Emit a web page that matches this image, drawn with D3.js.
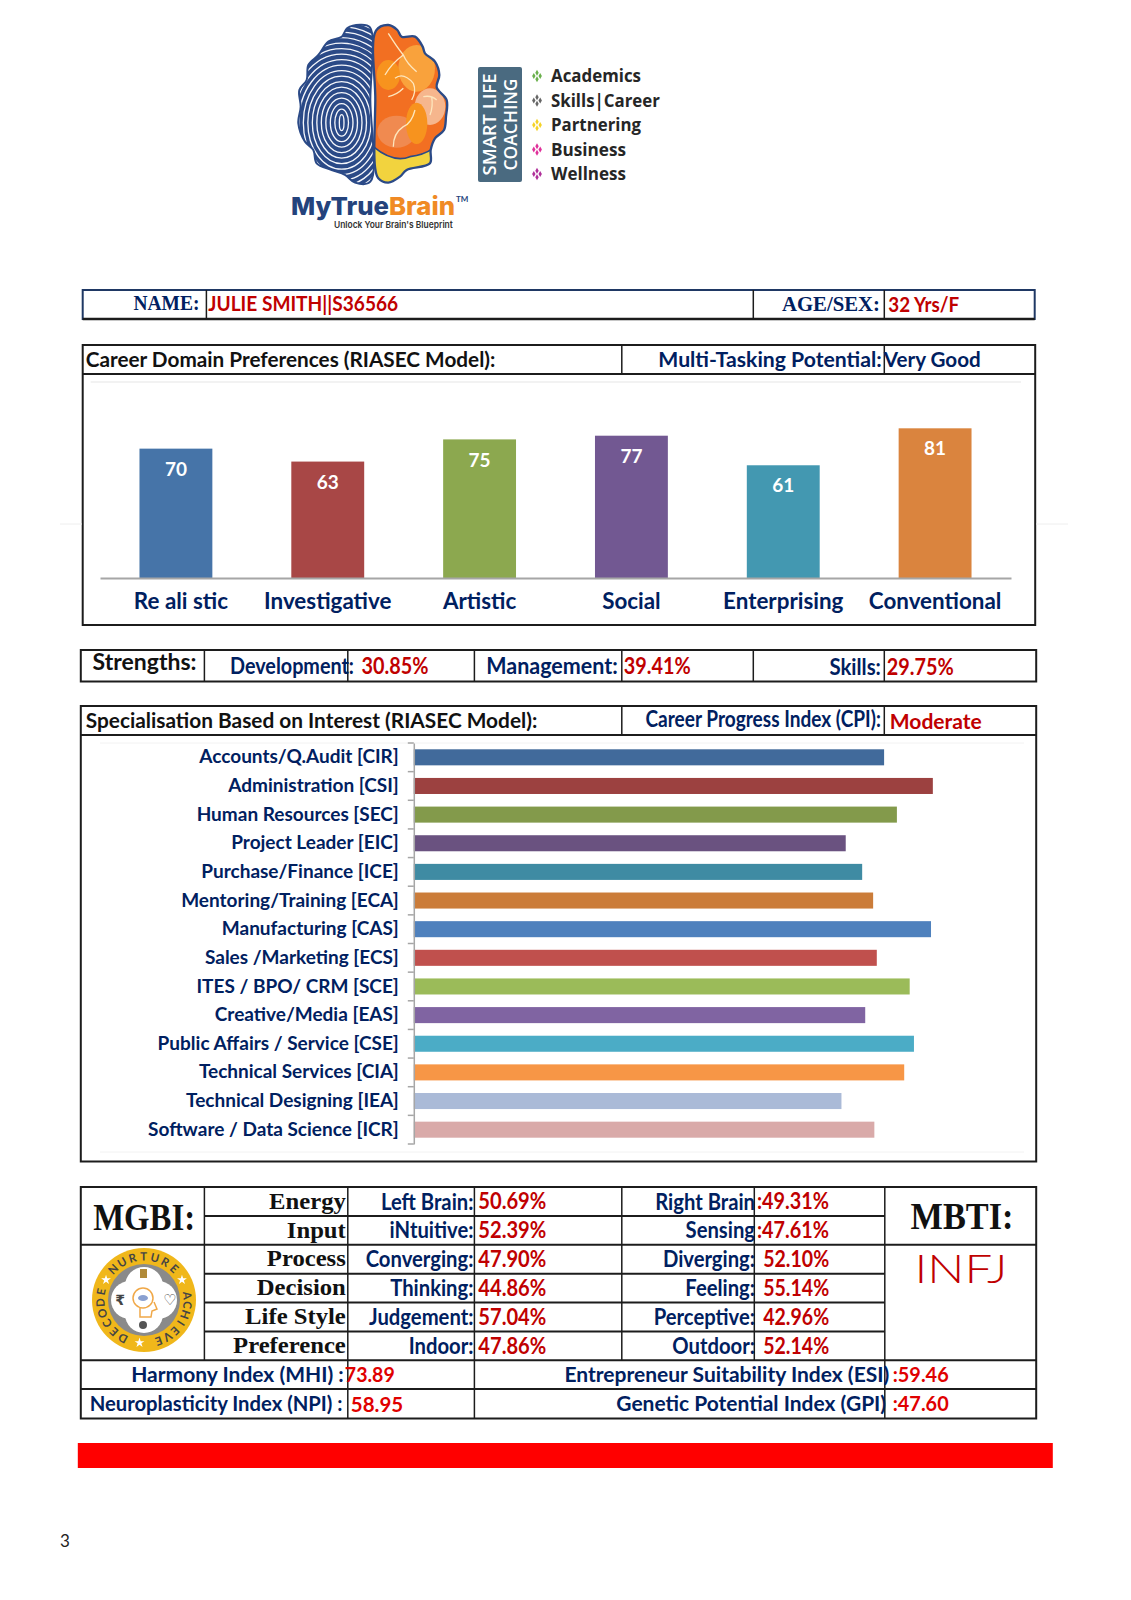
<!DOCTYPE html>
<html>
<head>
<meta charset="utf-8">
<title>Career report</title>
<script src="https://cdn.jsdelivr.net/npm/d3@7"></script>
<style>
    body { margin: 0; background: #fff; }
    svg { display: block; }
    text { font-family: Lato, sans-serif; font-weight: 700; }
</style>
</head>
<body>
<div id="page"></div>
<script>
var domainNames = ["Re ali stic", "Investigative", "Artistic", "Social", "Enterprising", "Conventional"];
var domainValues = [70, 63, 75, 77, 61, 81];
var domainColors = ["#4674a8", "#a84746", "#8ca84f", "#725892", "#4398b1", "#da843e"];

var specNames = ["Accounts/Q.Audit [CIR]", "Administration [CSI]", "Human Resources [SEC]", "Project Leader [EIC]",
    "Purchase/Finance [ICE]", "Mentoring/Training [ECA]", "Manufacturing [CAS]", "Sales /Marketing [ECS]",
    "ITES / BPO/ CRM [SCE]", "Creative/Media [EAS]", "Public Affairs / Service [CSE]", "Technical Services [CIA]",
    "Technical Designing [IEA]", "Software / Data Science [ICR]"];
var specValues = [77.2, 85.2, 79.3, 70.9, 73.6, 75.4, 84.9, 76.0, 81.4, 74.1, 82.1, 80.5, 70.2, 75.6];
var specColors = ["#416a9b", "#9c4140", "#839a4b", "#6a5280", "#3f8ba3", "#cb7c39", "#4f81bd", "#c0504d",
    "#9bbb59", "#8064a2", "#4bacc6", "#f79646", "#aabad7", "#d9aaa9"];

var coachingItems = ["Academics", "Skills|Career", "Partnering", "Business", "Wellness"];
var coachingColors = ["#6ab04c", "#666666", "#f5d327", "#e0309a", "#b0309a"];

var mgbiRows = ["Energy", "Input", "Process", "Decision", "Life Style", "Preference"];
var mgbiLeft = ["Left Brain:", "iNtuitive:", "Converging:", "Thinking:", "Judgement:", "Indoor:"];
var mgbiLeftPct = ["50.69%", "52.39%", "47.90%", "44.86%", "57.04%", "47.86%"];
var mgbiRight = ["Right Brain", "Sensing", "Diverging:", "Feeling:", "Perceptive:", "Outdoor:"];
var mgbiRightPct = [":49.31%", ":47.61%", "52.10%", "55.14%", "42.96%", "52.14%"];

var NAVY = "#002060", DARKRED = "#c00000", RED = "#e00000", SERIF = "'Liberation Serif', serif", LINE = "#1c1c1c";

var svg = d3.select("#page").append("svg").attr("width", 1131).attr("height", 1600);
var defs = svg.append("defs");

// text helper, fit/squeeze narrow the string like the condensed sheet text
function put(parent, str, x, y, opts) {
    opts = opts || {};
    var t = parent.append("text")
            .text(str)
            .attr("x", x)
            .attr("y", y)
            .attr("dy", "0.35em")
            .attr("text-anchor", opts.anchor || "start")
            .attr("fill", opts.fill || NAVY)
            .style("font-size", (opts.size || 20) + "px"),
        sx;
    if (opts.font) { t.style("font-family", opts.font); }
    if (opts.weight) { t.style("font-weight", opts.weight); }
    if (opts.fit || opts.squeeze) {
        sx = opts.squeeze || opts.fit / t.node().getComputedTextLength();
        t.attr("x", 0).attr("y", 0).attr("transform", "translate(" + x + "," + y + ") scale(" + sx + ",1)");
    }
    return t;
}

function rule(parent, x1, y1, x2, y2, w, col) {
    parent.append("line").attr("x1", x1).attr("y1", y1).attr("x2", x2).attr("y2", y2)
        .attr("stroke", col || LINE).attr("stroke-width", w || 2);
}

function box(parent, x1, y1, x2, y2, w, col) {
    parent.append("rect").attr("x", x1).attr("y", y1).attr("width", x2 - x1).attr("height", y2 - y1)
        .attr("fill", "none").attr("stroke", col || LINE).attr("stroke-width", w || 2);
}

// ---- logo at the top, drawn in 3x units
function drawBrain() {
    var g = svg.append("g").attr("transform", "translate(260,0) scale(0.3333)"),
        outline = d3.line().curve(d3.curveCatmullRomClosed.alpha(0.5)),
        leftShape = [[330, 82], [300, 74], [262, 84], [245, 110], [205, 125], [175, 165], [145, 195], [140, 240],
            [118, 270], [122, 320], [115, 370], [135, 425], [160, 450], [170, 490], [215, 510], [255, 525],
            [285, 548], [331, 545], [331, 300]],
        rightShape = [[348, 92], [385, 75], [412, 90], [425, 110], [465, 110], [488, 140], [495, 160], [525, 185],
            [538, 225], [530, 262], [560, 300], [558, 350], [552, 390], [525, 415], [512, 450], [510, 490],
            [440, 510], [420, 530], [385, 548], [355, 535], [345, 500], [346, 300]];

    defs.append("clipPath").attr("id", "leftClip").append("path").attr("d", outline(leftShape));
    defs.append("clipPath").attr("id", "rightClip").append("path").attr("d", outline(rightShape));

    g.append("path").attr("d", outline(leftShape)).attr("fill", "#2b4a87");
    g.append("g").attr("clip-path", "url(#leftClip)").selectAll("ellipse")
        .data(d3.range(18))
        .join("ellipse")
        .attr("cx", 245).attr("cy", 368)
        .attr("rx", function (d) { return 7 + d * 13.5; })
        .attr("ry", function (d) { return 24 + d * 16.5; })
        .attr("fill", "none").attr("stroke", "#f4f6fb").attr("stroke-width", 4);
    g.append("path").attr("d", outline(leftShape)).attr("fill", "none").attr("stroke", "#2b4a87").attr("stroke-width", 6);

    var right = g.append("g").attr("clip-path", "url(#rightClip)");
    right.append("path").attr("d", outline(rightShape)).attr("fill", "#f26f22");
    right.append("ellipse").attr("cx", 470).attr("cy", 205).attr("rx", 55).attr("ry", 70).attr("fill", "#f9a23c");
    right.append("ellipse").attr("cx", 385).attr("cy", 225).attr("rx", 35).attr("ry", 45).attr("fill", "#f7931e");
    right.append("ellipse").attr("cx", 510).attr("cy", 320).attr("rx", 46).attr("ry", 55).attr("fill", "#f6b68d");
    right.append("ellipse").attr("cx", 410).attr("cy", 395).attr("rx", 58).attr("ry", 48).attr("fill", "#f08a50");
    right.append("ellipse").attr("cx", 470).attr("cy", 370).attr("rx", 32).attr("ry", 62).attr("fill", "#f7931e");
    right.append("path").attr("d", "M340,440 Q400,490 450,470 Q490,465 520,445 L520,560 L340,560 Z").attr("fill", "#f2d33e");
    [
        "M385,100 Q410,140 430,165 Q440,190 470,215 M430,165 Q395,190 375,225",
        "M405,235 Q430,215 460,250 Q470,275 455,300 M430,265 Q410,285 385,290",
        "M490,290 Q515,285 530,300 M515,290 Q520,320 510,345",
        "M400,440 Q400,400 430,380 Q455,370 465,330"
    ].forEach(function (d) {
        right.append("path").attr("d", d).attr("fill", "none").attr("stroke", "#fde6bd").attr("stroke-width", 4);
    });
    right.append("path").attr("d", "M340,440 Q400,490 450,470 Q490,465 520,445").attr("fill", "none")
        .attr("stroke", "#2b4a87").attr("stroke-width", 5);
    g.append("path").attr("d", outline(rightShape)).attr("fill", "none").attr("stroke", "#2b4a87").attr("stroke-width", 7);

    var mark = svg.append("text").attr("x", 291).attr("y", 215).style("font-family", "Inter, sans-serif")
        .style("font-size", "25px").style("font-weight", 800).attr("textLength", 164).attr("lengthAdjust", "spacingAndGlyphs");
    mark.append("tspan").attr("fill", "#24437c").text("MyTrue");
    mark.append("tspan").attr("fill", "#f08a24").text("Brain");
    svg.append("text").attr("x", 456).attr("y", 202).attr("fill", "#24437c").style("font-size", "8px").text("TM");
    put(svg, "Unlock Your Brain's Blueprint", 334, 224.5, { size: 9.5, fill: "#333", fit: 119, font: "Inter, sans-serif", weight: 600 });

    svg.append("rect").attr("x", 478).attr("y", 67).attr("width", 44).attr("height", 115).attr("rx", 2).attr("fill", "#4a6a80");
    var side = svg.append("g").attr("transform", "translate(500,124.5) rotate(-90)");
    put(side, "SMART LIFE", 0, -10, { anchor: "middle", size: 17.5, fill: "#fff", font: "'Open Sans', sans-serif", weight: 600, fit: 102 });
    put(side, "COACHING", 0, 11, { anchor: "middle", size: 17.5, fill: "#fff", font: "'Open Sans', sans-serif", weight: 600, fit: 92 });

    var yItem = d3.scalePoint().domain(coachingItems).range([76, 174]);
    coachingItems.forEach(function (item, i) {
        put(svg, item, 551, yItem(item), { size: 17.5, fill: "#262626", font: "'Open Sans', sans-serif", weight: 700, fit: [90, 109, 90, 75, 75][i] });
        [[-3.2, 0], [3.2, 0], [0, -3.2], [0, 3.2]].forEach(function (o) {
            svg.append("path").attr("d", d3.symbol(d3.symbolDiamond, 10)())
                .attr("transform", "translate(" + (537 + o[0]) + "," + (yItem(item) + o[1]) + ")")
                .attr("fill", coachingColors[i]);
        });
    });
}

// ---- name row
function drawNameRow() {
    box(svg, 82.7, 290, 1034.7, 319, 2, "#1f3864");
    rule(svg, 82.7, 319, 1034.7, 319, 2.5);
    rule(svg, 206.4, 290, 206.4, 319, 1.5);
    rule(svg, 753.3, 290, 753.3, 319, 1.5);
    rule(svg, 884.3, 290, 884.3, 319, 1.5);
    put(svg, "NAME:", 199.4, 302.5, { anchor: "end", size: 22, font: SERIF, fit: 66 });
    put(svg, "JULIE SMITH||S36566", 208.3, 303.5, { size: 20, fill: DARKRED, fit: 190 });
    put(svg, "AGE/SEX:", 879.9, 303.5, { anchor: "end", size: 22, font: SERIF, fit: 98 });
    put(svg, "32 Yrs/F", 888.3, 304.5, { size: 20, fill: DARKRED, fit: 71 });
}

// ---- vertical bars
function drawDomains() {
    box(svg, 82.7, 345, 1035.2, 625);
    rule(svg, 82.7, 374, 1035.2, 374);
    rule(svg, 621.8, 345, 621.8, 374, 1.5);
    rule(svg, 884.3, 345, 884.3, 374, 1.5);
    put(svg, "Career Domain Preferences (RIASEC Model):", 85.7, 359.5, { size: 21, fill: "#111", fit: 410 });
    put(svg, "Multi-Tasking Potential:", 658.3, 359.5, { size: 21, fit: 223.5 });
    put(svg, "Very Good", 883.8, 359.5, { size: 21, fit: 97 });
    rule(svg, 90.7, 382, 1021, 382, 1.5, "#eeeeee");

    var x = d3.scaleBand().domain(domainNames).range([100, 1011]).paddingInner(0.52).paddingOuter(0.26),
        y = d3.scaleLinear().domain([0, 100]).range([578, 393.2]),
        g = svg.append("g");

    g.selectAll("rect").data(domainValues).join("rect")
        .attr("x", function (d, i) { return x(domainNames[i]); })
        .attr("y", function (d) { return y(d); })
        .attr("width", x.bandwidth())
        .attr("height", function (d) { return y(0) - y(d); })
        .attr("fill", function (d, i) { return domainColors[i]; });

    g.selectAll("text.val").data(domainValues).join("text")
        .attr("class", "val")
        .attr("x", function (d, i) { return x(domainNames[i]) + x.bandwidth() / 2; })
        .attr("y", function (d) { return y(d) + 20.5; })
        .attr("dy", "0.35em")
        .attr("text-anchor", "middle")
        .attr("fill", "#fff")
        .style("font-size", "19px")
        .text(function (d) { return d; });

    var axis = svg.append("g").attr("transform", "translate(0,578)")
        .call(d3.axisBottom(x).tickSize(0).tickPadding(15));
    axis.select(".domain").attr("stroke", "#a6a6a6").attr("stroke-width", 2);
    axis.selectAll("text").attr("fill", NAVY).style("font-size", "22.4px");
    axis.selectAll("text").filter(function (d, i) { return i === 0; }).attr("dx", 5);
}

function drawStrengths() {
    box(svg, 80.8, 650, 1036.2, 681.5);
    [204.4, 347.8, 474.4, 621.8, 753.3, 884.3].forEach(function (v) { rule(svg, v, 650, v, 681.5, 1.5); });
    put(svg, "Strengths:", 92.6, 662.5, { size: 22, fill: "#111", fit: 104 });
    put(svg, "Development:", 230, 666, { size: 22.5, fit: 124 });
    put(svg, "30.85%", 361.6, 666, { size: 22, fill: DARKRED, fit: 67 });
    put(svg, "Management:", 486.3, 666.5, { size: 22, fit: 131.5 });
    put(svg, "39.41%", 623.7, 666.5, { size: 22, fill: DARKRED, fit: 67 });
    put(svg, "Skills:", 829.4, 667, { size: 22, fit: 51.5 });
    put(svg, "29.75%", 886.8, 667, { size: 22, fill: DARKRED, fit: 67 });
}

// ---- horizontal bars
function drawSpecialisation() {
    box(svg, 80.8, 706, 1036.2, 1161.5);
    rule(svg, 80.8, 735, 1036.2, 735);
    rule(svg, 621.8, 706, 621.8, 735, 1.5);
    rule(svg, 884.3, 706, 884.3, 735, 1.5);
    put(svg, "Specialisation Based on Interest (RIASEC Model):", 85.7, 720.5, { size: 21, fill: "#111", fit: 452 });
    put(svg, "Career Progress Index (CPI):", 645.5, 719, { size: 22, fit: 235.5 });
    put(svg, "Moderate", 889.8, 722, { size: 21, fill: DARKRED, fit: 92 });
    rule(svg, 100, 743, 1024, 743, 1, "#f2f2f2");
    rule(svg, 100, 1152, 1024, 1152, 1, "#f2f2f2");

    var x = d3.scaleLinear().domain([0, 100]).range([413.8, 1023]),
        y = d3.scaleBand().domain(specNames).range([743, 1144]).paddingInner(0.44).paddingOuter(0.22);

    svg.append("g").selectAll("rect").data(specValues).join("rect")
        .attr("x", x(0))
        .attr("y", function (d, i) { return y(specNames[i]); })
        .attr("width", function (d) { return x(d) - x(0); })
        .attr("height", y.bandwidth())
        .attr("fill", function (d, i) { return specColors[i]; });

    var axis = svg.append("g").attr("transform", "translate(" + x(0) + ",0)")
        .call(d3.axisLeft(y).tickSize(0).tickPadding(15));
    axis.select(".domain").attr("stroke", "#a6a6a6").attr("stroke-width", 1.5);
    axis.selectAll("text").attr("fill", NAVY).style("font-size", "19px");

    // the sheet puts its tick marks between categories
    d3.range(specNames.length + 1).forEach(function (i) {
        var py = y.range()[0] + i * y.step();
        rule(svg, x(0) - 6, py, x(0), py, 1.5, "#a6a6a6");
    });
}

// ---- the seal in the MGBI cell
function drawSeal() {
    var g = svg.append("g").attr("transform", "translate(144,1300)"), sealWords;
    g.append("circle").attr("r", 52).attr("fill", "#f0b71a");
    g.append("circle").attr("r", 36).attr("fill", "#8a8a8a");
    [[0, -14], [0, 14], [-14, 0], [14, 0]].forEach(function (o) {
        g.append("circle").attr("cx", o[0]).attr("cy", o[1]).attr("r", 19).attr("fill", "#fff");
    });
    // letters go round clockwise, one rotated text each
    sealWords = [["NURTURE", -45, 44], ["ACHIEVE", 84, 160], ["DECODE", 209, 281]];
    sealWords.forEach(function (w) {
        w[0].split("").forEach(function (ch, i) {
            var deg = w[1] + (w[2] - w[1]) * i / (w[0].length - 1);
            put(g, ch, 0, -43.5, { anchor: "middle", size: 11.5, fill: "#444" })
                .attr("transform", "rotate(" + deg + ")");
        });
    });
    [-62, 62, 186].forEach(function (deg) {
        var a = deg * Math.PI / 180;
        g.append("path").attr("d", d3.symbol(d3.symbolStar, 30)())
            .attr("transform", "translate(" + (43 * Math.sin(a)) + "," + (-43 * Math.cos(a)) + ")")
            .attr("fill", "#fff");
    });
    g.append("circle").attr("cx", -1).attr("cy", -2).attr("r", 10).attr("fill", "none").attr("stroke", "#f0a848").attr("stroke-width", 1.5);
    g.append("path").attr("d", "M-4,8 L-4,17 L7,17 L8,11 L13,9 L10,2").attr("fill", "none").attr("stroke", "#f0a848").attr("stroke-width", 1.5);
    g.append("ellipse").attr("cx", -1).attr("cy", -2).attr("rx", 5).attr("ry", 3).attr("fill", "#8aa0d0");
    put(g, "₹", -24, 0, { anchor: "middle", size: 14, fill: "#444", font: "'DejaVu Sans', sans-serif" });
    put(g, "♡", 26, 0, { anchor: "middle", size: 15, fill: "#444", font: "'DejaVu Sans', sans-serif" });
    g.append("circle").attr("cx", -1).attr("cy", 25).attr("r", 4).attr("fill", "#555");
    g.append("rect").attr("x", -4).attr("y", -31).attr("width", 7).attr("height", 9).attr("fill", "#b08a3a");
}

// ---- bottom table
function drawTable() {
    var rowY = d3.scaleBand().domain(d3.range(6)).range([1187, 1360.3]),
        rowMid = function (i) { return rowY(i) + rowY.bandwidth() / 2; };

    box(svg, 80.8, 1187, 1036.2, 1418.5);
    d3.range(1, 6).forEach(function (i) { rule(svg, 204.4, rowY(i), 884.8, rowY(i)); });
    rule(svg, 80.8, rowY(2), 204.4, rowY(2));
    rule(svg, 884.8, rowY(2), 1036.2, rowY(2));
    rule(svg, 80.8, 1360.3, 1036.2, 1360.3);
    rule(svg, 80.8, 1389, 1036.2, 1389);
    [204.4, 621.8, 754.3].forEach(function (v) { rule(svg, v, 1187, v, 1360.3, 1.5); });
    [347.8, 474.4, 884.8].forEach(function (v) { rule(svg, v, 1187, v, 1418.5, 1.5); });

    put(svg, "MGBI:", 144.1, 1216.5, { anchor: "middle", size: 38, fill: "#111", font: SERIF, fit: 102 });
    put(svg, "MBTI:", 962, 1215.5, { anchor: "middle", size: 38, fill: "#111", font: SERIF, fit: 103 });
    put(svg, "INFJ", 961, 1269, { anchor: "middle", size: 39, fill: DARKRED, weight: 300, fit: 93 });

    mgbiRows.forEach(function (name, i) {
        var m = rowMid(i);
        put(svg, name, 345.8, m - 1, { anchor: "end", size: 23.5, fill: "#111", font: SERIF, squeeze: 1.05 });
        put(svg, mgbiLeft[i], 473.4, m, { anchor: "end", size: 23, squeeze: 0.88 });
        put(svg, mgbiLeftPct[i], 478.3, m, { size: 22, fill: DARKRED, fit: 68 });
        put(svg, mgbiRight[i], 755, m, { anchor: "end", size: 23, squeeze: 0.88 });
        if (mgbiRightPct[i].charAt(0) === ":") {
            put(svg, mgbiRightPct[i], 757, m, { size: 22, fill: DARKRED, fit: 72 });
        } else {
            put(svg, mgbiRightPct[i], 763.2, m, { size: 22, fill: DARKRED, fit: 66 });
        }
    });

    put(svg, "Harmony Index (MHI) :", 131.2, 1375, { size: 20.5, fit: 212.6 });
    put(svg, "73.89", 344.8, 1375, { size: 20.5, fill: RED, fit: 50 });
    put(svg, "Entrepreneur Suitability Index (ESI)", 564.4, 1375, { size: 20.5, fit: 325 });
    put(svg, ":59.46", 892.7, 1375, { size: 20.5, fill: RED, fit: 56 });
    put(svg, "Neuroplasticity Index (NPI) :", 89.7, 1403.5, { size: 20.5, fit: 253 });
    put(svg, "58.95", 350.8, 1404.5, { size: 20.5, fill: RED, fit: 52.4 });
    put(svg, "Genetic Potential Index (GPI)", 616.3, 1403.5, { size: 20.5, fit: 270 });
    put(svg, ":47.60", 892.7, 1403.5, { size: 20.5, fill: RED, fit: 56 });
}

drawBrain();
drawNameRow();
drawDomains();
drawStrengths();
drawSpecialisation();
drawSeal();
drawTable();

svg.append("rect").attr("x", 77.8).attr("y", 1443).attr("width", 975).attr("height", 25).attr("fill", "#ff0000");
rule(svg, 60, 524, 82, 524, 1, "#eeeeee");
rule(svg, 1036, 524, 1068, 524, 1, "#eeeeee");
put(svg, "3", 60, 1541, { size: 17, fill: "#222", weight: 400 });
</script>
</body>
</html>
